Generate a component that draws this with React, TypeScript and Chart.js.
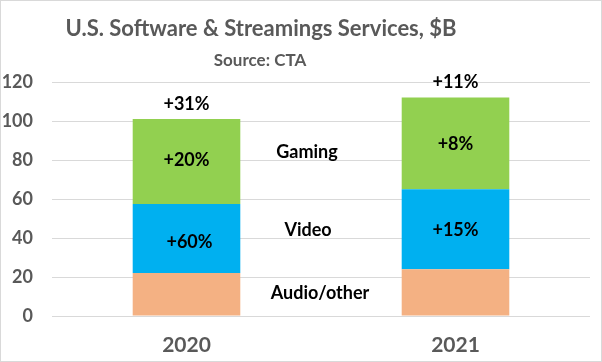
import React, { useEffect, useRef } from "react";
import { Chart, registerables } from "chart.js";

Chart.register(...registerables);

const categories = ["2020", "2021"];
const audioValues = [22, 24];
const videoValues = [35.5, 41];
const gamingValues = [43.5, 47];
const seriesNames = ["Audio/other", "Video", "Gaming"];
const segmentLabels = [
  ["", ""],
  ["+60%", "+15%"],
  ["+20%", "+8%"],
];
const totalLabels = ["+31%", "+11%"];
const yTicks = [0, 20, 40, 60, 80, 100, 120];
const titleText = "U.S. Software & Streamings Services, $B";
const subtitleText = "Source: CTA";

const FONT = "Lato, 'Open Sans', sans-serif";
const GRAY = "#595959";

const annotPlugin = {
  id: "annot",
  afterDatasetsDraw(chart: any) {
    const ctx = chart.ctx;
    ctx.save();
    // title + subtitle
    ctx.fillStyle = GRAY;
    ctx.textAlign = "center";
    ctx.textBaseline = "middle";
    ctx.font = `bold 22px ${FONT}`;
    ctx.fillText(titleText, 261, 29);
    ctx.font = `bold 17px ${FONT}`;
    ctx.fillText(subtitleText, 260, 61);

    // segment labels
    ctx.fillStyle = "#000";
    ctx.font = `bold 18px ${FONT}`;
    const metas = [0, 1, 2].map((i) => chart.getDatasetMeta(i));
    const segDy = [
      [0, 0],
      [4, 1],
      [-1, 1],
    ];
    metas.forEach((meta: any, i: number) => {
      meta.data.forEach((el: any, j: number) => {
        const t = segmentLabels[i][j];
        if (t) ctx.fillText(t, el.x + (i === 1 && j === 0 ? 3 : 0), (el.y + el.base) / 2 + segDy[i][j]);
      });
    });
    // totals
    const top = metas[2];
    top.data.forEach((el: any, j: number) => {
      ctx.fillText(totalLabels[j], el.x, el.y - 15);
    });
    // series names between the bars
    const offsets = [-1, -13, -14];
    const dys = [0, -4, 0];
    metas.forEach((meta: any, i: number) => {
      const els = meta.data;
      const x = (els[0].x + els[1].x) / 2 + offsets[i];
      const y = (els[0].y + els[0].base + els[1].y + els[1].base) / 4 + dys[i];
      ctx.fillText(seriesNames[i], x, y);
    });
    // outer border
    ctx.strokeStyle = "#d9d9d9";
    ctx.lineWidth = 1;
    ctx.strokeRect(0.5, 0.5, chart.width - 1, chart.height - 1);
    ctx.restore();
  },
};

export default function App() {
  const ref = useRef<HTMLCanvasElement>(null);
  useEffect(() => {
    document.body.style.margin = "0";
    const chart = new Chart(ref.current!, {
      type: "bar",
      data: {
        labels: categories,
        datasets: [
          { label: seriesNames[0], data: audioValues, backgroundColor: "#F4B183" },
          { label: seriesNames[1], data: videoValues, backgroundColor: "#00B0F0" },
          { label: seriesNames[2], data: gamingValues, backgroundColor: "#92D050" },
        ],
      },
      options: {
        animation: false,
        responsive: false,
        devicePixelRatio: 1,
        layout: { padding: { top: 82, bottom: 0, left: 0, right: 12 } },
        datasets: { bar: { barPercentage: 0.4, categoryPercentage: 1 } },
        plugins: {
          legend: { display: false },
          tooltip: { enabled: false },
          title: { display: false },
        },
        scales: {
          x: {
            stacked: true,
            grid: { display: false, drawTicks: false },
            border: { display: false },
            ticks: {
              color: GRAY,
              font: { family: FONT, size: 21, weight: "bold" },
              padding: 17,
            },
            afterFit: (s: any) => {
              s.height = 46;
            },
          },
          y: {
            stacked: true,
            min: 0,
            max: 120,
            afterBuildTicks: (s: any) => {
              s.ticks = yTicks.map((v) => ({ value: v }));
            },
            grid: { color: "#d9d9d9", drawTicks: false },
            border: { display: false },
            ticks: {
              color: GRAY,
              font: { family: FONT, size: 18, weight: "bold" },
              padding: 19,
            },
            afterFit: (s: any) => {
              s.width = 52;
            },
          },
        },
      },
      plugins: [annotPlugin],
    } as any);
    return () => chart.destroy();
  }, []);
  return (
    <div style={{ width: 602, height: 362 }}>
      <canvas ref={ref} width={602} height={362} />
    </div>
  );
}
